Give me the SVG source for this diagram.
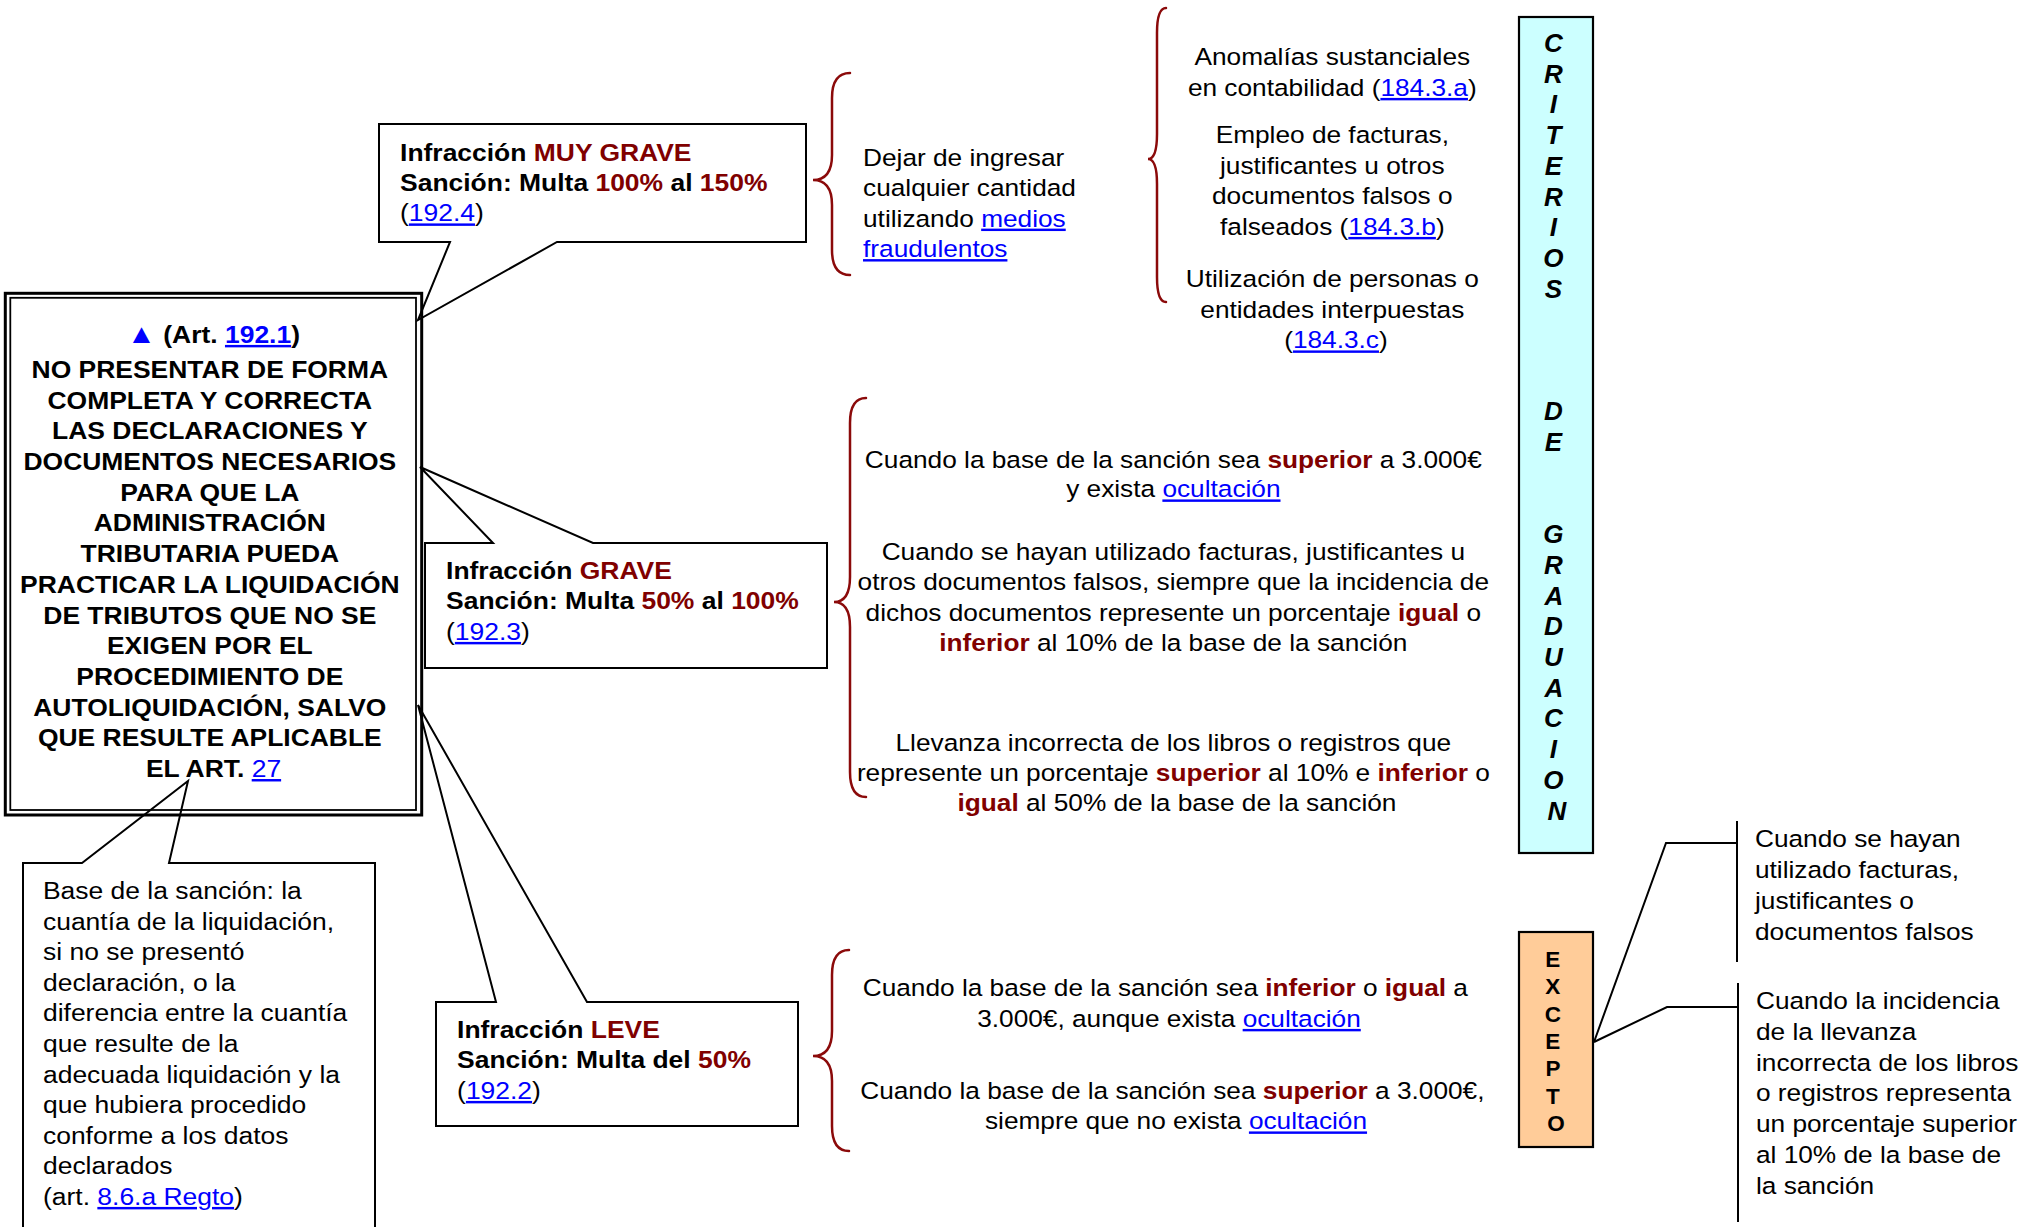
<svg xmlns="http://www.w3.org/2000/svg" width="2020" height="1227" viewBox="0 0 2020 1227">
  <style>
    text { font-family: "Liberation Sans", Arial, Helvetica, sans-serif; fill: #000; }
    .t { font-size: 24.3px; }
    .tl { font-size: 24.5px; }
    .b { font-weight: bold; }
    .red { fill: #800000; font-weight: bold; }
    .lk { fill: #0000ff; text-decoration: underline; }
    .n { font-weight: normal; }
    .call { fill: none; stroke: #000; stroke-width: 2; stroke-linejoin: miter; }
    .brace { fill: none; stroke: #8b0a0a; stroke-width: 2.5; stroke-linecap: round; }
    .wire { fill: none; stroke: #000; stroke-width: 2; }
    .vlabel { font-size: 26px; font-weight: bold; font-style: italic; }
    .xlabel { font-size: 22.5px; font-weight: bold; }
  </style>

  <rect width="2020" height="1227" fill="#fff"/>

  <!-- main concept box with double border -->
  <g id="main">
    <rect x="5.3" y="293.3" width="416.4" height="521.7" fill="#fff" stroke="#000" stroke-width="3"/>
    <rect x="10.3" y="297.8" width="405.7" height="512.2" fill="none" stroke="#000" stroke-width="1.8"/>
    <g transform="scale(1.08 1)">
      <text class="tl b" text-anchor="middle" x="197.7" y="343"><tspan fill="#0000ff" font-size="27px">▲</tspan> (Art. <tspan class="lk">192.1</tspan>)</text>
      <text class="tl b" text-anchor="middle" y="378">
        <tspan x="197.7">NO PRESENTAR DE FORMA</tspan>
        <tspan x="197.7" dy="30.7">COMPLETA Y CORRECTA</tspan>
        <tspan x="197.7" dy="30.7">LAS DECLARACIONES Y</tspan>
        <tspan x="197.7" dy="30.7">DOCUMENTOS NECESARIOS</tspan>
        <tspan x="197.7" dy="30.7">PARA QUE LA</tspan>
        <tspan x="197.7" dy="30.7">ADMINISTRACIÓN</tspan>
        <tspan x="197.7" dy="30.7">TRIBUTARIA PUEDA</tspan>
        <tspan x="197.7" dy="30.7">PRACTICAR LA LIQUIDACIÓN</tspan>
        <tspan x="197.7" dy="30.7">DE TRIBUTOS QUE NO SE</tspan>
        <tspan x="197.7" dy="30.7">EXIGEN POR EL</tspan>
        <tspan x="197.7" dy="30.7">PROCEDIMIENTO DE</tspan>
        <tspan x="197.7" dy="30.7">AUTOLIQUIDACIÓN, SALVO</tspan>
        <tspan x="197.7" dy="30.7">QUE RESULTE APLICABLE</tspan>
        <tspan x="197.7" dy="30.7">EL ART. <tspan class="lk n">27</tspan></tspan>
      </text>
    </g>
  </g>

  <!-- callout: very serious infraction -->
  <g id="muy-grave">
    <path class="call" d="M379,124 H806 V242 H557 L418,320 L450,242 H379 Z"/>
    <g transform="scale(1.08 1)">
      <text class="tl b" x="370.4" y="161">Infracción <tspan class="red">MUY GRAVE</tspan></text>
      <text class="tl b" x="370.4" y="191">Sanción: Multa <tspan class="red">100%</tspan> al <tspan class="red">150%</tspan></text>
      <text class="tl" x="370.4" y="221.5">(<tspan class="lk">192.4</tspan>)</text>
    </g>
  </g>

  <!-- callout: serious infraction -->
  <g id="grave">
    <path class="call" d="M425,543 H493 L420,467 L593,543 H827 V668 H425 Z"/>
    <g transform="scale(1.08 1)">
      <text class="tl b" x="413" y="579">Infracción <tspan class="red">GRAVE</tspan></text>
      <text class="tl b" x="413" y="609.5">Sanción: Multa <tspan class="red">50%</tspan> al <tspan class="red">100%</tspan></text>
      <text class="tl" x="413" y="640">(<tspan class="lk">192.3</tspan>)</text>
    </g>
  </g>

  <!-- callout: minor infraction -->
  <g id="leve">
    <path class="call" d="M436,1002 H496 L418,705 L587,1002 H798 V1126 H436 Z"/>
    <g transform="scale(1.08 1)">
      <text class="tl b" x="423.2" y="1038">Infracción <tspan class="red">LEVE</tspan></text>
      <text class="tl b" x="423.2" y="1068">Sanción: Multa del <tspan class="red">50%</tspan></text>
      <text class="tl" x="423.2" y="1099">(<tspan class="lk">192.2</tspan>)</text>
    </g>
  </g>

  <!-- callout: base of the sanction -->
  <g id="base">
    <path class="call" d="M23,1240 V863 H82 L188,781 L169,863 H375 V1240"/>
    <g transform="scale(1.08 1)">
      <text class="tl" y="899">
        <tspan x="39.8">Base de la sanción: la</tspan>
        <tspan x="39.8" dy="30.6">cuantía de la liquidación,</tspan>
        <tspan x="39.8" dy="30.6">si no se presentó</tspan>
        <tspan x="39.8" dy="30.6">declaración, o la</tspan>
        <tspan x="39.8" dy="30.6">diferencia entre la cuantía</tspan>
        <tspan x="39.8" dy="30.6">que resulte de la</tspan>
        <tspan x="39.8" dy="30.6">adecuada liquidación y la</tspan>
        <tspan x="39.8" dy="30.6">que hubiera procedido</tspan>
        <tspan x="39.8" dy="30.6">conforme a los datos</tspan>
        <tspan x="39.8" dy="30.6">declarados</tspan>
        <tspan x="39.8" dy="30.6">(art. <tspan class="lk">8.6.a Regto</tspan>)</tspan>
      </text>
    </g>
  </g>

  <!-- fraudulent means -->
  <g id="medios-fraudulentos">
    <g transform="scale(1.08 1)">
      <text class="t" y="165.7">
        <tspan x="799.1">Dejar de ingresar</tspan>
        <tspan x="799.1" dy="30.5">cualquier cantidad</tspan>
        <tspan x="799.1" dy="30.5">utilizando <tspan class="lk">medios</tspan></tspan>
        <tspan x="799.1" dy="30.5" class="lk">fraudulentos</tspan>
      </text>
    </g>
  </g>

  <!-- kinds of fraudulent means -->
  <g id="tipos-medios">
    <g transform="scale(1.08 1)">
      <text class="t" text-anchor="middle" y="65.5">
        <tspan x="1237">Anomalías sustanciales</tspan>
        <tspan x="1237" dy="30.5">en contabilidad (<tspan class="lk">184.3.a</tspan>)</tspan>
        <tspan x="1237" dy="47.5">Empleo de facturas,</tspan>
        <tspan x="1237" dy="30.5">justificantes u otros</tspan>
        <tspan x="1237" dy="30.5">documentos falsos o</tspan>
        <tspan x="1237" dy="30.5">falseados (<tspan class="lk">184.3.b</tspan>)</tspan>
        <tspan x="1237" dy="52.5">Utilización de personas o</tspan>
        <tspan x="1237" dy="30.5">entidades interpuestas</tspan>
        <tspan x="1237" dy="30.5">(<tspan class="lk">184.3.c</tspan>)</tspan>
      </text>
    </g>
  </g>

  <!-- conditions for the serious infraction -->
  <g id="condiciones-grave">
    <g transform="scale(1.08 1)">
      <text class="t" text-anchor="middle" y="468">
        <tspan x="1089.8">Cuando la base de la sanción sea <tspan class="red">superior</tspan> a 3.000€</tspan>
        <tspan x="1089.8" dy="29.5">y exista <tspan class="lk">ocultación</tspan></tspan>
        <tspan x="1089.8" dy="62.5">Cuando se hayan utilizado facturas, justificantes u</tspan>
        <tspan x="1089.8" dy="30.3">otros documentos falsos, siempre que la incidencia de</tspan>
        <tspan x="1089.8" dy="30.3">dichos documentos represente un porcentaje <tspan class="red">igual</tspan> o</tspan>
        <tspan x="1089.8" dy="30.3"><tspan class="red">inferior</tspan> al 10% de la base de la sanción</tspan>
        <tspan x="1089.8" dy="100">Llevanza incorrecta de los libros o registros que</tspan>
        <tspan x="1089.8" dy="30">represente un porcentaje <tspan class="red">superior</tspan> al 10% e <tspan class="red">inferior</tspan> o</tspan>
        <tspan x="1089.8" dy="30"><tspan class="red">igual</tspan> al 50% de la base de la sanción</tspan>
      </text>
    </g>
  </g>

  <!-- conditions for the minor infraction -->
  <g id="condiciones-leve">
    <g transform="scale(1.08 1)">
      <text class="t" text-anchor="middle" y="996">
        <tspan x="1082.4">Cuando la base de la sanción sea <tspan class="red">inferior</tspan> o <tspan class="red">igual</tspan> a</tspan>
        <tspan x="1082.4" dy="31">3.000€, aunque exista <tspan class="lk">ocultación</tspan></tspan>
      </text>
      <text class="t" text-anchor="middle" y="1099">
        <tspan x="1088.9">Cuando la base de la sanción sea <tspan class="red">superior</tspan> a 3.000€,</tspan>
        <tspan x="1088.9" dy="30.5">siempre que no exista <tspan class="lk">ocultación</tspan></tspan>
      </text>
    </g>
  </g>

  <!-- vertical banner: grading criteria -->
  <g id="criterios-graduacion">
    <rect x="1519" y="17" width="74" height="836" fill="#ccffff" stroke="#000" stroke-width="2.2"/>
    <text class="vlabel" text-anchor="middle" y="52">
      <tspan x="1557">C</tspan>
      <tspan x="1557" dy="30.7">R</tspan>
      <tspan x="1557" dy="30.7">I</tspan>
      <tspan x="1557" dy="30.7">T</tspan>
      <tspan x="1557" dy="30.7">E</tspan>
      <tspan x="1557" dy="30.7">R</tspan>
      <tspan x="1557" dy="30.7">I</tspan>
      <tspan x="1557" dy="30.7">O</tspan>
      <tspan x="1557" dy="30.7">S</tspan>
      <tspan x="1557" dy="122.8">D</tspan>
      <tspan x="1557" dy="30.7">E</tspan>
      <tspan x="1557" dy="92.1">G</tspan>
      <tspan x="1557" dy="30.7">R</tspan>
      <tspan x="1557" dy="30.7">A</tspan>
      <tspan x="1557" dy="30.7">D</tspan>
      <tspan x="1557" dy="30.7">U</tspan>
      <tspan x="1557" dy="30.7">A</tspan>
      <tspan x="1557" dy="30.7">C</tspan>
      <tspan x="1557" dy="30.7">I</tspan>
      <tspan x="1557" dy="30.7">O</tspan>
      <tspan x="1557" dy="30.7">N</tspan>
    </text>
  </g>

  <!-- vertical banner: exceptions -->
  <g id="excepto">
    <rect x="1519" y="932" width="74" height="215" fill="#ffcc99" stroke="#000" stroke-width="2.2"/>
    <text class="xlabel" text-anchor="middle" y="967">
      <tspan x="1556">E</tspan>
      <tspan x="1556" dy="27.3">X</tspan>
      <tspan x="1556" dy="27.3">C</tspan>
      <tspan x="1556" dy="27.3">E</tspan>
      <tspan x="1556" dy="27.3">P</tspan>
      <tspan x="1556" dy="27.3">T</tspan>
      <tspan x="1556" dy="27.3">O</tspan>
    </text>
  </g>

  <!-- exception: false documents -->
  <g id="excepcion-documentos">
    <g transform="scale(1.08 1)">
      <text class="t" y="847">
        <tspan x="1625">Cuando se hayan</tspan>
        <tspan x="1625" dy="31">utilizado facturas,</tspan>
        <tspan x="1625" dy="31">justificantes o</tspan>
        <tspan x="1625" dy="31">documentos falsos</tspan>
      </text>
    </g>
  </g>

  <!-- exception: incorrect bookkeeping -->
  <g id="excepcion-llevanza">
    <g transform="scale(1.08 1)">
      <text class="t" y="1009">
        <tspan x="1625.9">Cuando la incidencia</tspan>
        <tspan x="1625.9" dy="30.8">de la llevanza</tspan>
        <tspan x="1625.9" dy="30.8">incorrecta de los libros</tspan>
        <tspan x="1625.9" dy="30.8">o registros representa</tspan>
        <tspan x="1625.9" dy="30.8">un porcentaje superior</tspan>
        <tspan x="1625.9" dy="30.8">al 10% de la base de</tspan>
        <tspan x="1625.9" dy="30.8">la sanción</tspan>
      </text>
    </g>
  </g>

  <!-- braces and connecting lines -->
  <g id="connectors">
    <path class="brace" d="M850,73 Q832,73 832,98 V155 Q832,180 813,180 Q832,180 832,205 V250 Q832,275 850,275"/>
    <path class="brace" d="M1166,8 Q1157,8 1157,33 V134 Q1157,159 1148,159 Q1157,159 1157,184 V277 Q1157,302 1166,302"/>
    <path class="brace" d="M866,398 Q850,398 850,423 V577 Q850,602 834,602 Q850,602 850,627 V772 Q850,797 866,797"/>
    <path class="brace" d="M849,950 Q832,950 832,975 V1031 Q832,1056 813,1056 Q832,1056 832,1081 V1126 Q832,1151 849,1151"/>
    <path class="wire" d="M1594,1042 L1666,843 H1737"/>
    <path class="wire" d="M1594,1042 L1667,1007 H1738"/>
    <path class="wire" d="M1737,821 V962"/>
    <path class="wire" d="M1738,983 V1222"/>
  </g>
</svg>
